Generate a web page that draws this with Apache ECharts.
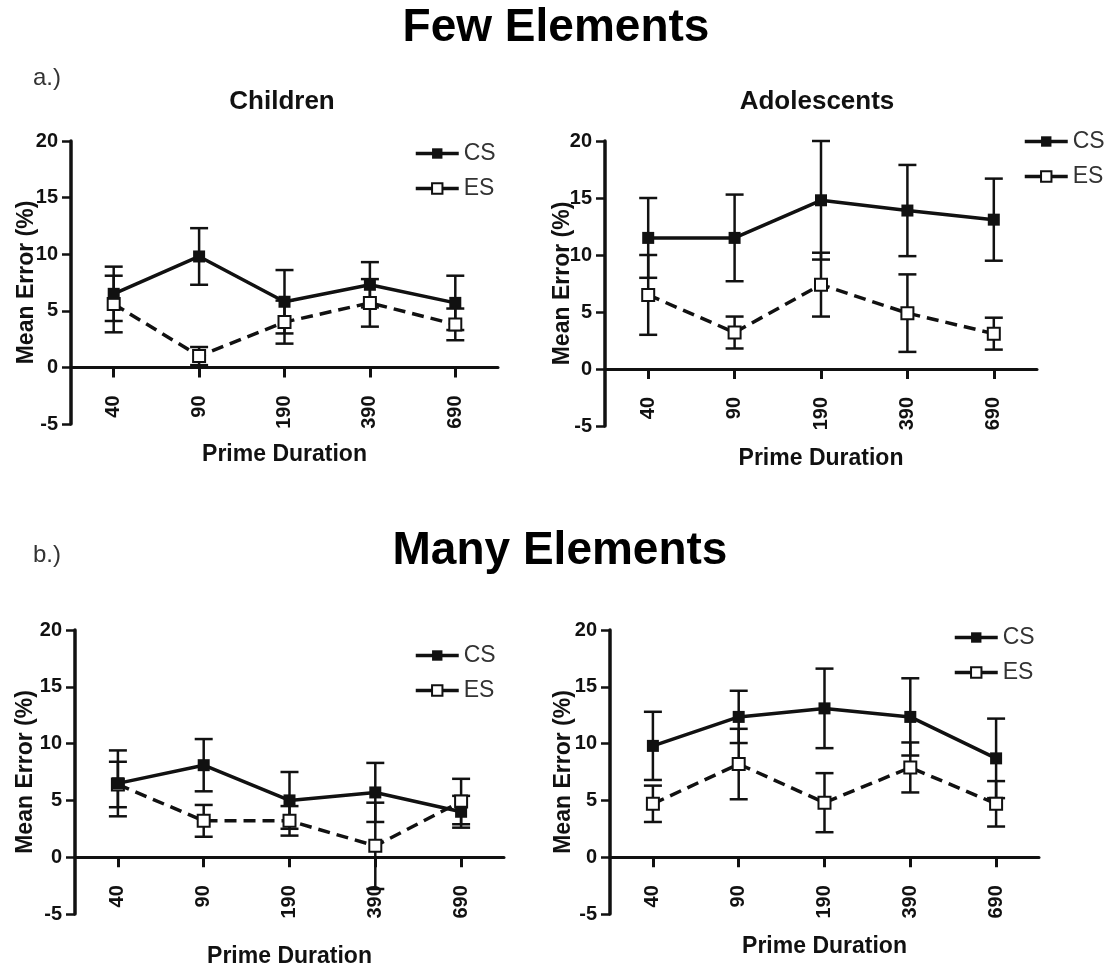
<!DOCTYPE html>
<html>
<head>
<meta charset="utf-8">
<script src="https://cdn.jsdelivr.net/npm/echarts@6/dist/echarts.min.js"></script>
<style>
  html, body { margin: 0; padding: 0; background: #fff; }
  #chart { width: 1119px; height: 971px; }
</style>
</head>
<body>
<div id="chart"></div>
<script>
const durations = ['40', '90', '190', '390', '690'];

// Few elements
const fewChildCS = [6.5, 9.8, 5.8, 7.3, 5.7];
const fewChildCSErr = [2.4, 2.5, 2.8, 2.0, 2.4];
const fewChildES = [5.6, 1.0, 4.0, 5.7, 3.8];
const fewChildESErr = [2.5, 0.8, 1.9, 2.1, 1.4];

const fewAdolCS = [11.5, 11.5, 14.8, 13.9, 13.1];
const fewAdolCSErr = [3.5, 3.8, 5.2, 4.0, 3.6];
const fewAdolES = [6.5, 3.2, 7.4, 4.9, 3.1];
const fewAdolESErr = [3.5, 1.4, 2.8, 3.4, 1.4];

// Many elements
const manyChildCS = [6.5, 8.1, 5.0, 5.7, 4.0];
const manyChildCSErr = [2.9, 2.3, 2.5, 2.6, 1.4];
const manyChildES = [6.4, 3.2, 3.2, 1.0, 4.9];
const manyChildESErr = [2.0, 1.4, 1.3, 3.8, 2.0];

const manyAdolCS = [9.8, 12.35, 13.1, 12.35, 8.7];
const manyAdolCSErr = [3.0, 2.3, 3.5, 3.4, 3.5];
const manyAdolES = [4.7, 8.2, 4.8, 7.9, 4.7];
const manyAdolESErr = [1.6, 3.1, 2.6, 2.2, 2.0];

const yTicks = { min: -5, max: 20, interval: 5 };

const FONT = '"Liberation Sans", Arial, sans-serif';
const INK = '#111';

const panels = [
  { cs: fewChildCS, csErr: fewChildCSErr, es: fewChildES, esErr: fewChildESErr,
    grid: { left: 71, top: 141, width: 427, height: 283 }, legend: { left: 414, top: 142 },
    xGap: 76, yGap: 33 },
  { cs: fewAdolCS, csErr: fewAdolCSErr, es: fewAdolES, esErr: fewAdolESErr,
    grid: { left: 605, top: 141, width: 432, height: 285 }, legend: { left: 1023, top: 130 },
    xGap: 78, yGap: 31 },
  { cs: manyChildCS, csErr: manyChildCSErr, es: manyChildES, esErr: manyChildESErr,
    grid: { left: 75, top: 630, width: 429, height: 284 }, legend: { left: 414, top: 644 },
    xGap: 88, yGap: 38 },
  { cs: manyAdolCS, csErr: manyAdolCSErr, es: manyAdolES, esErr: manyAdolESErr,
    grid: { left: 610, top: 630, width: 429, height: 284 }, legend: { left: 953, top: 626 },
    xGap: 78, yGap: 35 }
];

function errBars(mean, err) {
  return mean.map((m, i) => [i, m - err[i], m + err[i]]);
}

function renderErr(params, api) {
  const x = api.value(0);
  const top = api.coord([x, api.value(2)]);
  const bot = api.coord([x, api.value(1)]);
  const w = 9;
  const style = { stroke: INK, lineWidth: 2.5 };
  return {
    type: 'group',
    children: [
      { type: 'line', shape: { x1: top[0], y1: top[1], x2: bot[0], y2: bot[1] }, style },
      { type: 'line', shape: { x1: top[0] - w, y1: top[1], x2: top[0] + w, y2: top[1] }, style },
      { type: 'line', shape: { x1: bot[0] - w, y1: bot[1], x2: bot[0] + w, y2: bot[1] }, style }
    ]
  };
}

const chart = echarts.init(document.getElementById('chart'));

const grids = [], xAxes = [], yAxes = [], legends = [], series = [];

panels.forEach((p, i) => {
  grids.push(Object.assign({ containLabel: false, outerBoundsMode: 'none' }, p.grid));
  // put the category axis on the y = 0 line (one fifth of the grid above its bottom)
  const zeroOffset = -p.grid.height * (0 - yTicks.min) / (yTicks.max - yTicks.min);
  xAxes.push({
    type: 'category',
    gridIndex: i,
    data: durations,
    position: 'bottom',
    offset: zeroOffset,
    name: 'Prime Duration',
    nameLocation: 'middle',
    nameGap: p.xGap,
    nameMoveOverlap: false,
    nameTextStyle: { fontFamily: FONT, fontWeight: 'bold', fontSize: 23, color: INK },
    axisLine: { onZero: false, lineStyle: { color: INK, width: 3 } },
    axisTick: { show: true, alignWithLabel: true, length: 10, lineStyle: { width: 3, color: INK } },
    axisLabel: { rotate: 90, margin: 28, fontFamily: FONT, fontWeight: 'bold', fontSize: 20, color: INK },
    splitLine: { show: false }
  });
  yAxes.push({
    type: 'value',
    gridIndex: i,
    min: yTicks.min,
    max: yTicks.max,
    interval: yTicks.interval,
    name: 'Mean Error (%)',
    nameLocation: 'middle',
    nameGap: p.yGap,
    nameMoveOverlap: false,
    nameTextStyle: { fontFamily: FONT, fontWeight: 'bold', fontSize: 23, color: INK },
    axisLine: { show: true, onZero: false, lineStyle: { color: INK, width: 3.5 } },
    axisTick: { show: true, length: 9, lineStyle: { width: 2.5, color: INK } },
    axisLabel: { margin: 13, fontFamily: FONT, fontWeight: 'bold', fontSize: 20, color: INK },
    splitLine: { show: false }
  });
  legends.push({
    data: ['CS', 'ES'],
    orient: 'vertical',
    left: p.legend.left,
    top: p.legend.top,
    padding: 0,
    itemGap: 12,
    itemWidth: 43,
    itemHeight: 13,
    selectedMode: false,
    lineStyle: { type: 'solid', width: 3.5 },
    textStyle: { fontFamily: FONT, fontSize: 23, color: '#333' }
  });
  series.push(
    {
      type: 'custom', name: 'CS err', xAxisIndex: i, yAxisIndex: i,
      data: errBars(p.cs, p.csErr), renderItem: renderErr, encode: { x: 0, y: [1, 2] }, z: 1, silent: true
    },
    {
      type: 'custom', name: 'ES err', xAxisIndex: i, yAxisIndex: i,
      data: errBars(p.es, p.esErr), renderItem: renderErr, encode: { x: 0, y: [1, 2] }, z: 1, silent: true
    },
    {
      type: 'line', name: 'CS', xAxisIndex: i, yAxisIndex: i, data: p.cs,
      symbol: 'rect', symbolSize: 12, z: 3,
      lineStyle: { color: INK, width: 3.5 },
      itemStyle: { color: INK }
    },
    {
      type: 'line', name: 'ES', xAxisIndex: i, yAxisIndex: i, data: p.es,
      symbol: 'rect', symbolSize: 12, z: 2,
      lineStyle: { color: INK, width: 3.5, type: [12, 7] },
      itemStyle: { color: '#fff', borderColor: INK, borderWidth: 2 }
    }
  );
});

function label(text, x, y, size, weight, color, align) {
  return {
    text: text,
    left: x,
    top: y - size / 2,
    textAlign: align || 'center',
    padding: 0,
    textStyle: { fontFamily: FONT, fontSize: size, fontWeight: weight, color: color || INK }
  };
}

const option = {
  animation: false,
  backgroundColor: '#fff',
  title: [
    label('Few Elements', 556, 28, 46, 'bold', '#000'),
    label('Many Elements', 560, 551, 46, 'bold', '#000'),
    label('a.)', 33, 78, 24, 'normal', '#333', 'left'),
    label('b.)', 33, 555, 24, 'normal', '#333', 'left'),
    label('Children', 282, 102, 26, 'bold', INK),
    label('Adolescents', 817, 102, 26, 'bold', INK)
  ],
  grid: grids,
  xAxis: xAxes,
  yAxis: yAxes,
  legend: legends,
  series: series
};

chart.setOption(option);
</script>
</body>
</html>
